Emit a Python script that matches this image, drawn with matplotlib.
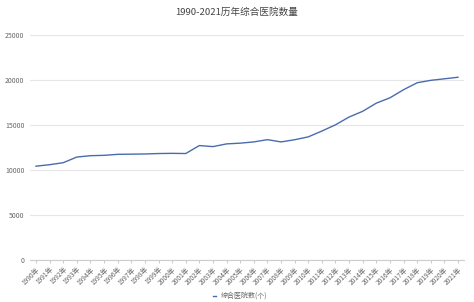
import matplotlib
matplotlib.use("Agg")
import matplotlib.pyplot as plt

plt.rcParams['font.family'] = ['Noto Sans CJK SC', 'DejaVu Sans']

years = [f"{y}年" for y in range(1990, 2022)]
hospitals = [10424, 10590, 10810, 11440, 11590, 11630, 11740, 11760, 11780, 11830,
             11850, 11830, 12716, 12599, 12900, 12982, 13120, 13372, 13119, 13364,
             13681, 14328, 15021, 15887, 16524, 17430, 18020, 18921, 19693, 19963,
             20133, 20307]
yticks = [0, 5000, 10000, 15000, 20000, 25000]

fig = plt.figure(figsize=(4.74, 3.02), dpi=100)
ax = fig.add_axes([30/474, 42/302, 434/474, 225/302])
x = list(range(len(years)))
line, = ax.plot(x, hospitals, color='#4a6bb0', linewidth=1.0, label='综合医院数(个)')
ax.set_ylim(0, 25000)
ax.set_xlim(-0.44, len(years) - 1 + 0.44)
ax.set_yticks(yticks)
ax.set_yticklabels([str(v) for v in yticks])
ax.set_xticks(x)
ax.set_xticklabels(years, rotation=45, ha='right', rotation_mode='anchor')
ax.tick_params(axis='y', length=0, labelsize=5, colors='#666666', pad=4)
ax.tick_params(axis='x', length=2, labelsize=4.8, colors='#666666', pad=2, color='#cccccc')
ax.grid(axis='y', color='#e6e6e6', linewidth=0.8)
ax.set_axisbelow(True)
for s in ['top', 'right', 'left']:
    ax.spines[s].set_visible(False)
ax.spines['bottom'].set_color('#cccccc')
ax.spines['bottom'].set_linewidth(0.8)

fig.text(0.5, 1 - 12/302, '1990-2021历年综合医院数量', ha='center', va='center',
         fontsize=6.9, color='#444444')
fig.legend(handles=[line], loc='center', bbox_to_anchor=(240/474, 1 - 296/302),
           frameon=False, fontsize=5, handlelength=0.5, handletextpad=0.6,
           labelcolor='#666666')

fig.savefig('out.png', dpi=100)
